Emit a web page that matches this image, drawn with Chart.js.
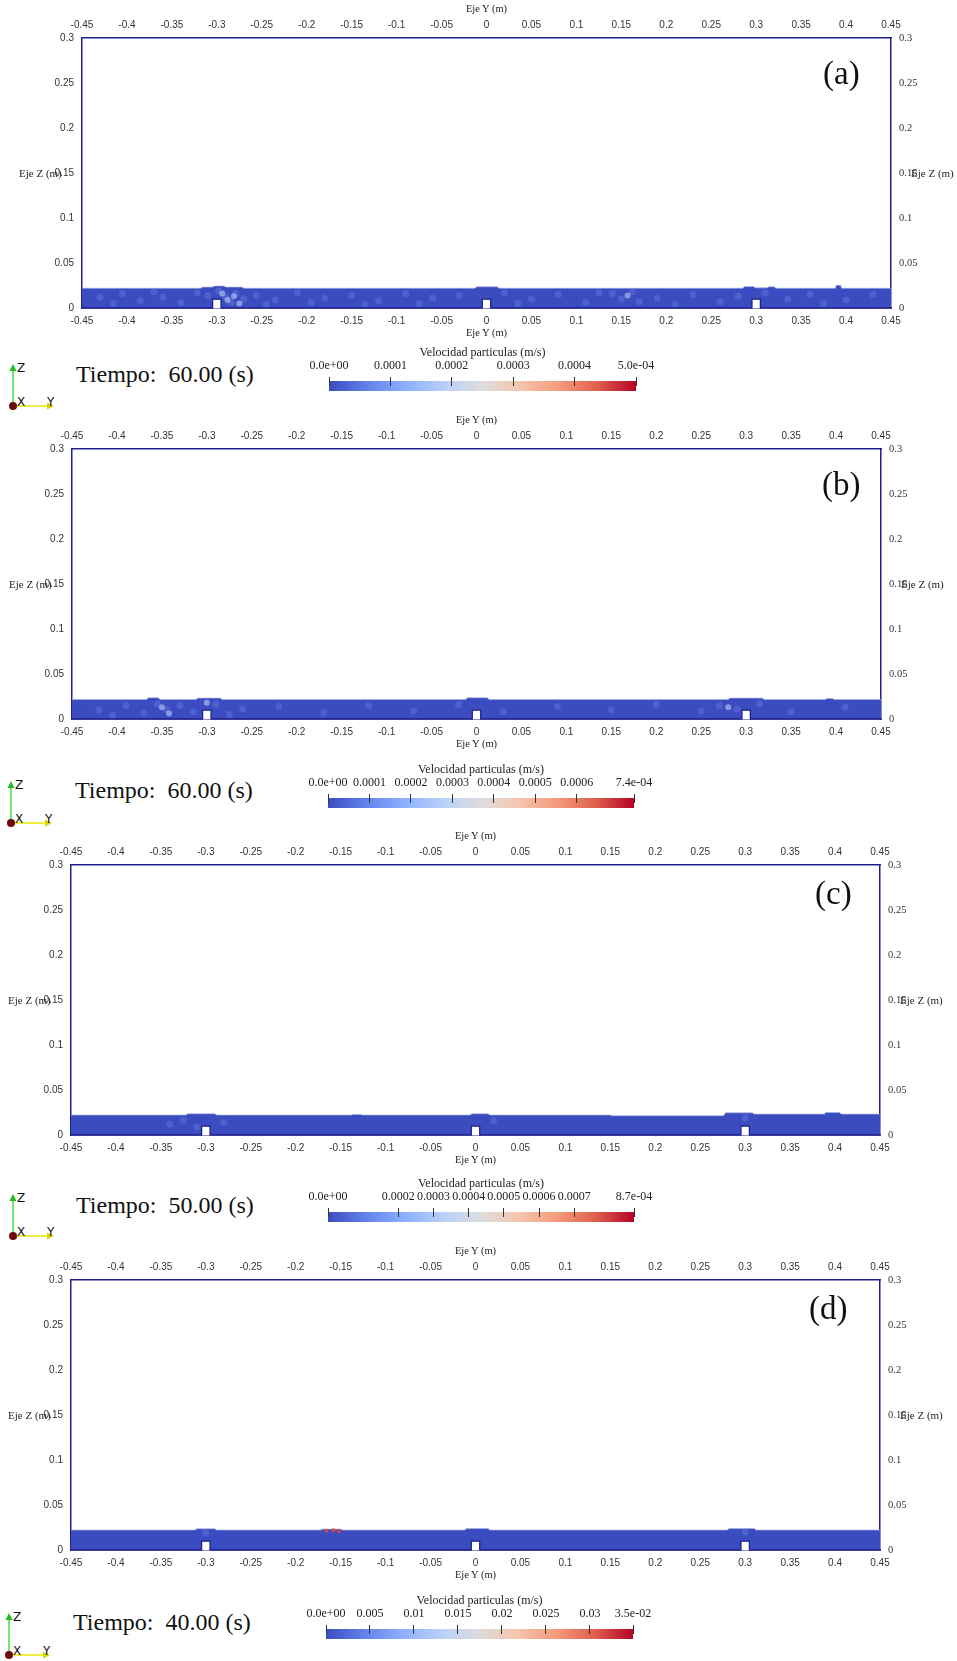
<!DOCTYPE html>
<html>
<head>
<meta charset="utf-8">
<script src="https://cdn.jsdelivr.net/npm/chart.js@4.4.1/dist/chart.umd.min.js"></script>
<style>
  body { margin: 0; background: #fff; }
  #page { position: relative; width: 957px; height: 1661px; overflow: hidden; background: #fff; color: #111; }
  .t { position: absolute; white-space: pre; line-height: 1; }
  .serif { font-family: 'Liberation Serif', 'Times New Roman', serif; }
  .bar { position: absolute; height: 10px;
    background: linear-gradient(to right, rgb(59,76,192) 0%, rgb(98,130,234) 12.5%, rgb(141,176,254) 25%,
      rgb(184,208,249) 37.5%, rgb(221,221,221) 50%, rgb(245,196,173) 62.5%, rgb(244,154,123) 75%,
      rgb(222,96,77) 87.5%, rgb(180,4,38) 100%); }
  .tk { position: absolute; width: 1px; height: 9px; background: #333; }
</style>
</head>
<body>
<div id="page"></div>
<script>
// ---- data ----
var yTicks = [-0.45,-0.4,-0.35,-0.3,-0.25,-0.2,-0.15,-0.1,-0.05,0,0.05,0.1,0.15,0.2,0.25,0.3,0.35,0.4,0.45];
var zTicks = [0,0.05,0.1,0.15,0.2,0.25,0.3];

var panelTags = ['(a)','(b)','(c)','(d)'];
var tiempos   = ['60.00','60.00','50.00','40.00'];

var cbMax = [5.0e-4, 7.38e-4, 8.7e-4, 3.49e-2];
var cbTickA = [0,0.0001,0.0002,0.0003,0.0004,0.0005];
var cbTickB = [0,0.0001,0.0002,0.0003,0.0004,0.0005,0.0006,0.000738];
var cbTickC = [0,0.0002,0.0003,0.0004,0.0005,0.0006,0.0007,0.00087];
var cbTickD = [0,0.005,0.01,0.015,0.02,0.025,0.03,0.0349];
var cbTextA = ['0.0e+00','0.0001','0.0002','0.0003','0.0004','5.0e-04'];
var cbTextB = ['0.0e+00','0.0001','0.0002','0.0003','0.0004','0.0005','0.0006','7.4e-04'];
var cbTextC = ['0.0e+00','0.0002','0.0003','0.0004','0.0005','0.0006','0.0007','8.7e-04'];
var cbTextD = ['0.0e+00','0.005','0.01','0.015','0.02','0.025','0.03','3.5e-02'];

// notches in the floor (centre y, width, height in m)
var notchCenters = [-0.3, 0, 0.3];
var notchWidth = 0.0094;
var notchHeight = 0.0098;

// top profile of the particle bed [y, z]
var stripA = [[-0.45,0.022],[-0.318,0.022],[-0.316,0.0232],[-0.305,0.0232],[-0.303,0.0244],[-0.292,0.0244],[-0.29,0.0232],
  [-0.272,0.0232],[-0.27,0.022],[-0.013,0.022],[-0.011,0.0236],[0.012,0.0236],[0.014,0.022],[0.285,0.022],[0.287,0.0238],
  [0.297,0.0238],[0.299,0.0224],[0.312,0.0224],[0.314,0.0236],[0.32,0.0236],[0.322,0.022],[0.388,0.022],[0.389,0.0252],
  [0.394,0.0252],[0.395,0.022],[0.45,0.022]];
var stripB = [[-0.45,0.0216],[-0.367,0.0216],[-0.365,0.0236],[-0.354,0.0236],[-0.352,0.0216],[-0.312,0.0216],[-0.31,0.0232],
  [-0.285,0.0232],[-0.283,0.0216],[-0.012,0.0216],[-0.01,0.0236],[0.012,0.0236],[0.014,0.0216],[0.28,0.0216],[0.282,0.0232],
  [0.318,0.0232],[0.32,0.0216],[0.388,0.0216],[0.39,0.0228],[0.396,0.0228],[0.398,0.0216],[0.45,0.0216]];
var stripC = [[-0.45,0.0222],[-0.322,0.0222],[-0.32,0.0236],[-0.29,0.0236],[-0.288,0.0222],[-0.138,0.0222],[-0.136,0.0228],
  [-0.128,0.0228],[-0.126,0.0222],[-0.006,0.0222],[-0.004,0.0236],[0.014,0.0236],[0.016,0.0222],[0.15,0.0222],[0.152,0.0214],
  [0.276,0.0214],[0.278,0.0246],[0.308,0.0246],[0.31,0.0232],[0.388,0.0232],[0.39,0.025],[0.405,0.025],[0.407,0.0232],[0.45,0.0232]];
var stripD = [[-0.45,0.0222],[-0.312,0.0222],[-0.31,0.0236],[-0.29,0.0236],[-0.288,0.0222],[-0.172,0.0222],[-0.17,0.0232],
  [-0.15,0.0232],[-0.148,0.0222],[-0.012,0.0222],[-0.01,0.0238],[0.014,0.0238],[0.016,0.0222],[0.28,0.0222],[0.282,0.0238],
  [0.31,0.0238],[0.312,0.0222],[0.45,0.0222]];

// lighter particles [y, z]
var lightA = [[-0.43,0.012],[-0.415,0.005],[-0.405,0.016],[-0.385,0.008],[-0.37,0.018],[-0.36,0.012],[-0.34,0.006],[-0.322,0.017],
  [-0.31,0.014],[-0.298,0.019],[-0.29,0.012],[-0.284,0.006],[-0.279,0.016],[-0.27,0.01],[-0.256,0.014],[-0.245,0.004],[-0.235,0.009],
  [-0.21,0.017],[-0.195,0.006],[-0.18,0.011],[-0.15,0.014],[-0.135,0.004],[-0.12,0.008],[-0.09,0.016],[-0.075,0.005],[-0.06,0.011],
  [-0.03,0.014],[0.02,0.017],[0.035,0.005],[0.05,0.01],[0.08,0.015],[0.11,0.006],[0.125,0.017],[0.14,0.016],[0.15,0.01],
  [0.162,0.018],[0.17,0.007],[0.19,0.011],[0.21,0.004],[0.23,0.015],[0.26,0.007],[0.28,0.013],[0.31,0.017],[0.335,0.01],
  [0.36,0.015],[0.375,0.005],[0.4,0.009],[0.43,0.015]];
var paleA = [[-0.294,0.016],[-0.288,0.009],[-0.281,0.013],[-0.275,0.005],[0.157,0.014]];
var lightB = [[-0.42,0.01],[-0.405,0.004],[-0.39,0.015],[-0.37,0.007],[-0.355,0.017],[-0.345,0.011],[-0.33,0.015],[-0.315,0.008],
  [-0.29,0.016],[-0.275,0.005],[-0.26,0.011],[-0.22,0.014],[-0.17,0.007],[-0.12,0.015],[-0.07,0.009],[-0.02,0.016],[0.03,0.008],
  [0.09,0.014],[0.15,0.01],[0.2,0.016],[0.25,0.009],[0.27,0.015],[0.29,0.011],[0.315,0.017],[0.35,0.008],[0.41,0.013]];
var paleB = [[-0.35,0.013],[-0.342,0.006],[-0.3,0.018],[0.28,0.013]];
var lightC = [[-0.34,0.012],[-0.325,0.016],[-0.31,0.009],[-0.28,0.014],[0.02,0.016],[0.3,0.019]];
var paleC = [];
var lightD = [[-0.3,0.019],[0.3,0.02]];
var redD = [[-0.166,0.0215],[-0.158,0.022],[-0.152,0.0212]];

// ---- layout ----
var plotLeft = [82, 72, 71, 71];
var plotTop  = [38, 449, 865, 1280];
var PW = 809, PH = 270, CH = 345;
var tagPos   = [[823,73],[822,484],[815,893],[809,1308]];
var tiempoPos = [[76,374],[75,790],[76,1205],[73,1622]];
var triadPos = [[13,406],[11,823],[13,1236],[9,1655]];
var cbPos = [[329,307,381],[328,306,798],[328,306,1212],[326,307,1629]];

var NAVY = '#20208c';
var BED = 'rgb(59,76,192)';
var page = document.getElementById('page');

function txt(s, x, y, cls, css, anchor) {
  var d = document.createElement('div');
  d.className = 't ' + cls;
  d.textContent = s;
  var tx = anchor === 'c' ? '-50%' : anchor === 'r' ? '-100%' : '0';
  d.style.cssText = 'left:' + x + 'px;top:' + y + 'px;transform:translate(' + tx + ',-50%);' + (css || '');
  page.appendChild(d);
  return d;
}

function pts(arr) { return arr.map(function (p) { return { x: p[0], y: p[1] }; }); }

function notchPts() {
  var out = [[-0.45, 0]];
  notchCenters.forEach(function (c) {
    var a = c - notchWidth / 2, b = c + notchWidth / 2;
    out.push([a, 0], [a, notchHeight], [b, notchHeight], [b, 0]);
  });
  out.push([0.45, 0]);
  return pts(out);
}

var strips = [stripA, stripB, stripC, stripD];
var lights = [lightA, lightB, lightC, lightD];
var pales = [paleA, paleB, paleC, []];
var reds = [[], [], [], redD];
var cbTicks = [cbTickA, cbTickB, cbTickC, cbTickD];
var cbTexts = [cbTextA, cbTextB, cbTextC, cbTextD];

function fmt(v) { return String(+v.toFixed(2)); }
function fixW(w) { return function (s) { s.width = w; }; }
function fixH(h) { return function (s) { s.height = h; }; }
function setTicks(vals) { return function (s) { s.ticks = vals.map(function (v) { return { value: v }; }); }; }

function axis(pos, vals, min, max, size, font) {
  var horiz = pos === 'top' || pos === 'bottom';
  return {
    type: 'linear', position: pos, min: min, max: max, z: 1,
    afterBuildTicks: setTicks(vals),
    afterFit: horiz ? fixH(size) : fixW(size),
    grid: { display: false, drawTicks: false, tickLength: 0 },
    border: { display: true, color: NAVY, width: 1.5 },
    ticks: { autoSkip: false, maxRotation: 0, padding: horiz ? 7 : 8, color: '#333', font: font, callback: fmt }
  };
}

function makePanel(i) {
  var L = plotLeft[i], T = plotTop[i];
  var cv = document.createElement('canvas');
  cv.width = 957; cv.height = CH;
  cv.style.cssText = 'position:absolute;left:0;top:' + (T - 38) + 'px;';
  page.appendChild(cv);
  var sans = { family: "'Liberation Sans', Arial, sans-serif", size: 10 };
  var serif = { family: "'Liberation Serif', 'Times New Roman', serif", size: 10.5 };

  new Chart(cv, {
    type: 'line',
    data: {
      datasets: [
        { data: notchPts(), order: 0, fill: 'origin', backgroundColor: '#fff', borderColor: NAVY, borderWidth: 1.3,
          pointRadius: 0, tension: 0, clip: 2 },
        { data: pts(reds[i]), order: 1, showLine: false, pointRadius: 2, backgroundColor: 'rgba(225,70,60,0.9)', borderWidth: 0 },
        { data: pts(pales[i]), order: 1, showLine: false, pointRadius: 3, backgroundColor: 'rgba(205,214,246,0.55)', borderWidth: 0 },
        { data: pts(lights[i]), order: 1, showLine: false, pointRadius: 3.5, backgroundColor: 'rgba(110,138,232,0.35)', borderWidth: 0 },
        { data: pts(strips[i]), order: 2, fill: 'origin', backgroundColor: BED, borderColor: 'rgba(170,180,225,0.8)',
          borderWidth: 0.8, pointRadius: 0, tension: 0 }
      ]
    },
    options: {
      responsive: false, animation: false, events: [],
      layout: { padding: 0 },
      plugins: { legend: { display: false }, tooltip: { enabled: false } },
      scales: {
        x:  axis('bottom', yTicks, -0.45, 0.45, CH - 38 - PH, sans),
        x2: axis('top', yTicks, -0.45, 0.45, 38, sans),
        y:  axis('left', zTicks, 0, 0.3, L, sans),
        y2: axis('right', zTicks, 0, 0.3, 957 - L - PW, serif)
      }
    }
  });

  // axis titles
  var mid = L + PW / 2;
  txt('Eje Y (m)', mid, T - 29, 'serif', 'font-size:10.5px;color:#222;', 'c');
  txt('Eje Y (m)', mid, T + PH + 25, 'serif', 'font-size:10.5px;color:#222;', 'c');
  txt('Eje Z (m)', L - 63, T + PH / 2, 'serif', 'font-size:11px;color:#222;', 'l');
  txt('Eje Z (m)', L + PW + 20, T + PH / 2, 'serif', 'font-size:11px;color:#222;', 'l');

  // panel tag
  txt(panelTags[i], tagPos[i][0], tagPos[i][1], 'serif', 'font-size:33px;color:#111;', 'l');

  // time label
  txt('Tiempo:  ' + tiempos[i] + ' (s)', tiempoPos[i][0], tiempoPos[i][1], 'serif', 'font-size:24px;color:#111;', 'l');

  // colour bar
  var cb = cbPos[i], bx = cb[0], bw = cb[1], by = cb[2];
  var bar = document.createElement('div');
  bar.className = 'bar';
  bar.style.cssText = 'left:' + bx + 'px;top:' + by + 'px;width:' + bw + 'px;';
  page.appendChild(bar);
  txt('Velocidad particulas (m/s)', bx + bw / 2, by - 29, 'serif', 'font-size:12px;color:#222;', 'c');
  cbTicks[i].forEach(function (v, k) {
    var px = bx + v / cbMax[i] * bw;
    var tk = document.createElement('div');
    tk.className = 'tk';
    tk.style.cssText = 'left:' + Math.round(px - 0.5) + 'px;top:' + (by - 4) + 'px;';
    page.appendChild(tk);
    txt(cbTexts[i][k], px, by - 16, 'serif', 'font-size:12px;color:#222;', 'c');
  });

  // orientation triad
  var o = triadPos[i];
  var ns = 'http://www.w3.org/2000/svg';
  var svg = document.createElementNS(ns, 'svg');
  svg.setAttribute('width', 70); svg.setAttribute('height', 60);
  svg.style.cssText = 'position:absolute;left:' + (o[0] - 10) + 'px;top:' + (o[1] - 50) + 'px;overflow:visible;';
  svg.innerHTML =
    '<line x1="10" y1="50" x2="10" y2="12" stroke="#22dd22" stroke-width="1.3"/>' +
    '<polygon points="10,8 6.5,15 13.5,15" fill="#22bb22"/>' +
    '<line x1="10" y1="50" x2="47" y2="50" stroke="#e8e800" stroke-width="1.3"/>' +
    '<polygon points="51,50 44,46.5 44,53.5" fill="#d6d600"/>' +
    '<circle cx="10" cy="50" r="4" fill="#6b0a0a"/>' +
    '<text x="14" y="16" font-family="DejaVu Sans, sans-serif" font-size="12" fill="#111">Z</text>' +
    '<text x="14" y="50" font-family="DejaVu Sans, sans-serif" font-size="12" fill="#111">X</text>' +
    '<text x="44" y="50" font-family="DejaVu Sans, sans-serif" font-size="12" fill="#111">Y</text>';
  page.appendChild(svg);
}

for (var i = 0; i < 4; i++) makePanel(i);
</script>
</body>
</html>
